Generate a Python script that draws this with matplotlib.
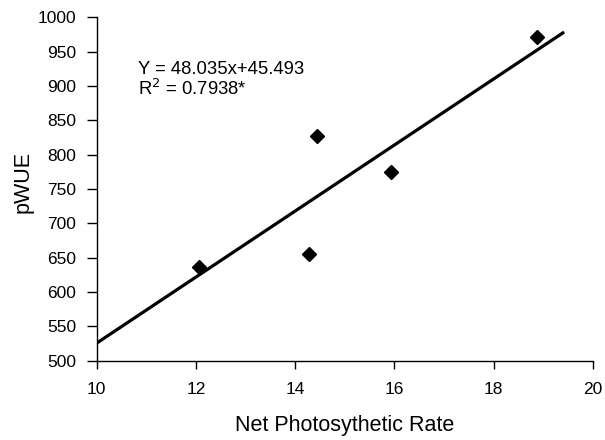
import matplotlib
matplotlib.use("Agg")
import matplotlib.pyplot as plt
import numpy as np

plt.rcParams['font.family'] = ['Liberation Sans', 'DejaVu Sans']

x_vals = [12.05, 14.28, 14.44, 15.93, 18.88]
y_vals = [637, 655, 827, 774, 971]
slope = 48.035
intercept = 45.493
line_x = [10, 19.42]
x_ticks = [10, 12, 14, 16, 18, 20]
y_ticks = [500, 550, 600, 650, 700, 750, 800, 850, 900, 950, 1000]

fig = plt.figure(figsize=(6.05, 4.4), dpi=100)
ax = fig.add_axes([0.160, 0.180, 0.820, 0.781])

lx = np.array(line_x)
ax.plot(lx, slope * lx + intercept, color='black', lw=2.3, solid_capstyle='butt')
ax.plot(x_vals, y_vals, linestyle='none', marker='D', color='black', markersize=7.5)

ax.set_xlim(10, 20)
ax.set_ylim(500, 1000)
ax.set_xticks(x_ticks)
ax.set_yticks(y_ticks)
ax.tick_params(axis='both', labelsize=12.5, direction='out', width=1, colors='black')
ax.tick_params(axis='x', length=5.5, pad=10)
ax.tick_params(axis='y', length=7, pad=8)
ax.spines['top'].set_visible(False)
ax.spines['right'].set_visible(False)
for s in ['left', 'bottom']:
    ax.spines[s].set_linewidth(1.0)

ax.set_xlabel('Net Photosythetic Rate', fontsize=15.5, labelpad=13)
ax.set_ylabel('pWUE', fontsize=15.5, labelpad=3)
ax.yaxis.label.set_y(0.52)

ax.text(10.83, 917, 'Y = 48.035x+45.493', fontsize=13.3, va='baseline', ha='left')
ax.text(10.83, 887, 'R$^2$ = 0.7938*', fontsize=13.3, va='baseline', ha='left')

fig.savefig('out.png', dpi=100)
